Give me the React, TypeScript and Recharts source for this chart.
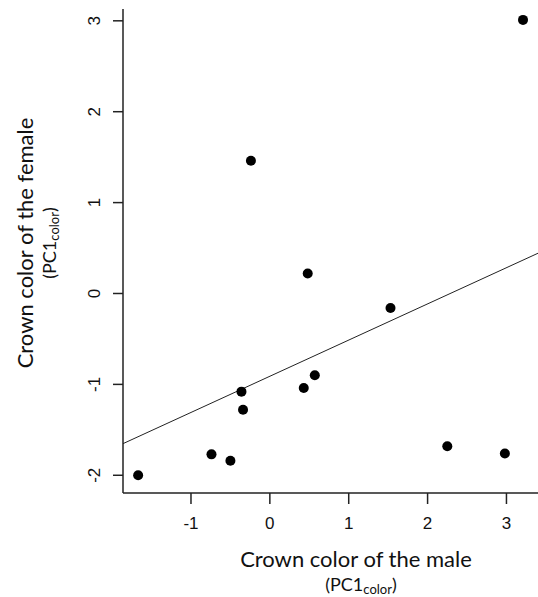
import React from 'react';
import { ScatterChart, Scatter, XAxis, YAxis } from 'recharts';

// male crown colour (PC1) vs female crown colour (PC1)
const maleColor = [-1.67, -0.74, -0.5, -0.36, -0.34, -0.24, 0.43, 0.48, 0.57, 1.53, 2.25, 2.98, 3.21];
const femaleColor = [-2.0, -1.77, -1.84, -1.08, -1.28, 1.46, -1.04, 0.22, -0.9, -0.16, -1.68, -1.76, 3.01];

// fitted regression line, end points at the edges of the plot range
const fitX = [-1.862, 3.4];
const fitY = [-1.652, 0.443];

const xTicks = [-1, 0, 1, 2, 3];
const yTicks = [-2, -1, 0, 1, 2, 3];

const points = maleColor.map((x, i) => ({ x, y: femaleColor[i] }));
const fitLine = fitX.map((x, i) => ({ x, y: fitY[i] }));

const W = 538;
const H = 597;
const tickFont = '"Liberation Sans", Arial, sans-serif';
const titleFont = 'Lato, "Open Sans", sans-serif';
const ink = '#111';

const XTick = (props: any) => {
  const { x, y, payload } = props;
  return (
    <text x={x} y={y + 23} textAnchor="middle" fontSize={17} fontFamily={tickFont} fill={ink}>
      {payload.value}
    </text>
  );
};

const YTick = (props: any) => {
  const { x, y, payload } = props;
  const bx = x - 11;
  return (
    <text x={bx} y={y} transform={`rotate(-90, ${bx}, ${y})`} textAnchor="middle" fontSize={17} fontFamily={tickFont} fill={ink}>
      {payload.value}
    </text>
  );
};

const Dot = (props: any) => <circle cx={props.cx} cy={props.cy} r={5} fill="#000" />;

// "(PC1color)" with a subscript
const SubLabel = ({ x, y, rotate }: { x: number; y: number; rotate?: boolean }) => (
  <text
    x={x}
    y={y}
    transform={rotate ? `rotate(-90, ${x}, ${y})` : undefined}
    textAnchor="middle"
    fontSize={18}
    fontFamily={titleFont}
    fill={ink}
  >
    <tspan>(PC1</tspan>
    <tspan fontSize={13} dy={3}>color</tspan>
    <tspan dy={-3}>)</tspan>
  </text>
);

export default function App() {
  return (
    <div style={{ position: 'absolute', left: 0, top: 0, width: W, height: H, background: '#fff' }}>
      <ScatterChart width={W} height={H} margin={{ top: 9, right: 0, bottom: 0, left: 0 }}>
        <XAxis
          type="number"
          dataKey="x"
          domain={[-1.862, 3.4]}
          ticks={xTicks}
          allowDataOverflow
          height={104}
          tickSize={11}
          axisLine={{ stroke: '#222', strokeWidth: 1.5 }}
          tickLine={{ stroke: '#222', strokeWidth: 1.5 }}
          tick={<XTick />}
        />
        <YAxis
          type="number"
          dataKey="y"
          domain={[-2.195, 3.13]}
          ticks={yTicks}
          allowDataOverflow
          width={123}
          tickSize={10}
          axisLine={{ stroke: '#222', strokeWidth: 1.5 }}
          tickLine={{ stroke: '#222', strokeWidth: 1.5 }}
          tick={<YTick />}
        />
        <Scatter data={fitLine} line={{ stroke: '#222', strokeWidth: 1 }} shape={() => <g />} isAnimationActive={false} />
        <Scatter data={points} shape={<Dot />} isAnimationActive={false} />
      </ScatterChart>
      <svg width={W} height={H} style={{ position: 'absolute', left: 0, top: 0, pointerEvents: 'none' }}>
        <text x={356} y={567} textAnchor="middle" fontSize={22} fontFamily={titleFont} fill={ink}>
          Crown color of the male
        </text>
        <SubLabel x={361} y={591} />
        <text x={33} y={243} transform="rotate(-90, 33, 243)" textAnchor="middle" fontSize={22} fontFamily={titleFont} fill={ink}>
          Crown color of the female
        </text>
        <SubLabel x={56} y={243} rotate />
      </svg>
    </div>
  );
}
